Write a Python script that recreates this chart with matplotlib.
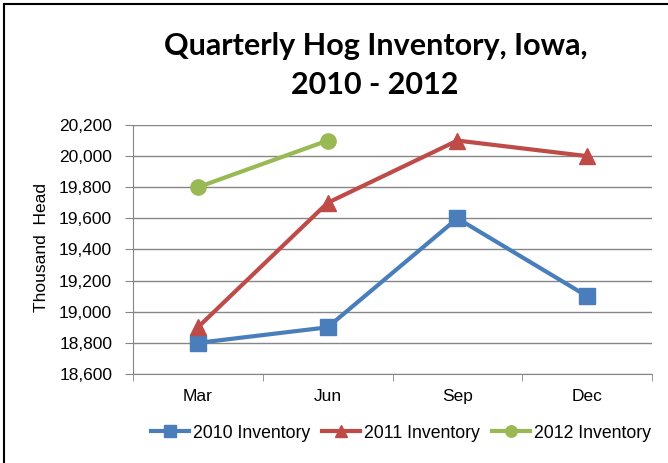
import matplotlib.pyplot as plt
from matplotlib.ticker import FuncFormatter
from matplotlib.lines import Line2D

quarters = ["Mar", "Jun", "Sep", "Dec"]
inv_2010 = [18800, 18900, 19600, 19100]
inv_2011 = [18900, 19700, 20100, 20000]
inv_2012 = [19800, 20100]

plt.rcParams['font.family'] = ['Liberation Sans', 'DejaVu Sans']

W, H = 668, 463
fig = plt.figure(figsize=(W / 100, H / 100), dpi=100)
ax = fig.add_axes([133 / W, 1 - 374 / H, 519 / W, 249 / H])

x = list(range(len(quarters)))
ax.plot(x, inv_2010, color="#4a7ebb", lw=3, marker="s", ms=11, label="2010 Inventory")
ax.plot(x, inv_2011, color="#be4b48", lw=3, marker="^", ms=11, label="2011 Inventory")
ax.plot(x[:len(inv_2012)], inv_2012, color="#98b954", lw=3, marker="o", ms=11, label="2012 Inventory")

ax.set_xlim(-0.5, 3.5)
ax.set_ylim(18600, 20200)
ax.set_yticks(range(18600, 20201, 200))
ax.yaxis.set_major_formatter(FuncFormatter(lambda v, p: f"{int(v):,}"))
ax.set_xticks(x)
ax.set_xticklabels(quarters)
ax.set_xticks([-0.5, 0.5, 1.5, 2.5, 3.5], minor=True)
ax.tick_params(axis="x", which="major", length=0, pad=11, labelsize=12.5)
ax.tick_params(axis="x", which="minor", length=5, color="#868686")
ax.tick_params(axis="y", length=6, color="#868686", labelsize=12.5, pad=9)
ax.grid(axis="y", color="#868686", lw=1)
ax.set_axisbelow(True)
for s in ["top", "right"]:
    ax.spines[s].set_visible(False)
ax.spines["left"].set_color("#868686")
ax.spines["bottom"].set_color("#868686")

fig.text(41 / W, 1 - 248 / H, "Thousand  Head", rotation=90, ha="center", va="center",
         fontsize=12.5)

fig.text(0.563, 1 - 55 / H, "Quarterly Hog Inventory, Iowa,", ha="center", va="baseline",
         fontsize=22, fontweight="bold", family=["Lato", "DejaVu Sans"])
fig.text(0.561, 1 - 94 / H, "2010 - 2012", ha="center", va="baseline",
         fontsize=22, fontweight="bold", family=["Lato", "DejaVu Sans"])

fig.legend(loc="center", bbox_to_anchor=(401 / W, 1 - 433 / H), ncol=3, frameon=False,
           fontsize=12.7, handlelength=2.15, columnspacing=0.7, handletextpad=0.2,
           markerscale=0.75)

# figure frame: top and left edges only
fig.lines.append(Line2D([4 / W, 1], [1 - 4 / H, 1 - 4 / H], transform=fig.transFigure,
                        color="black", lw=1.5))
fig.lines.append(Line2D([4 / W, 4 / W], [0, 1 - 4 / H], transform=fig.transFigure,
                        color="black", lw=1.5))

fig.savefig("out.png", dpi=100)
